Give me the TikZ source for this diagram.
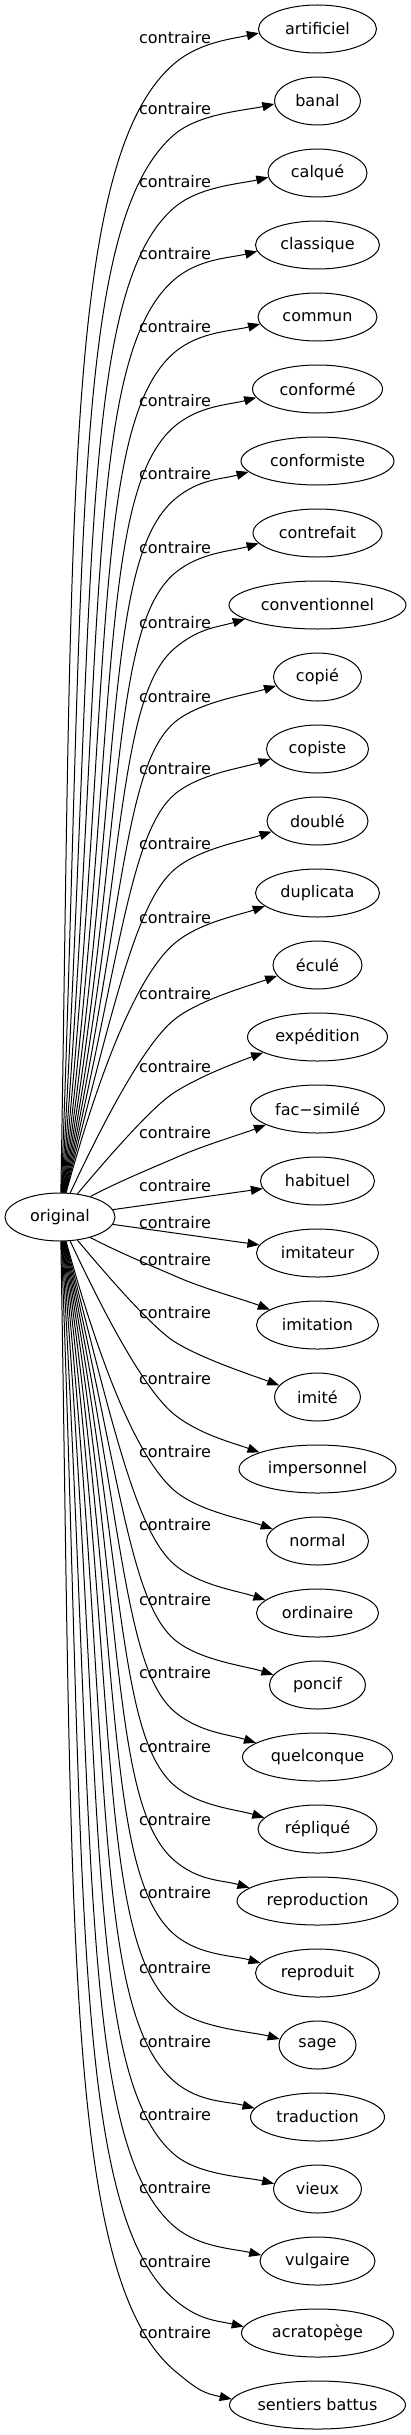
\documentclass[tikz,border=0pt]{standalone}
\usepackage{fontspec}
\setmainfont{DejaVu Sans}
\usetikzlibrary{arrows.meta,shapes.geometric,calc}
\begin{document}
\begin{tikzpicture}[x=1pt,y=-1pt,
  every node/.style={font=\fontsize{16}{19}\selectfont},
  tgt/.style={draw, ellipse, line width=1pt, minimum height=48pt, inner sep=0pt},
  src/.style={draw, ellipse, line width=1pt, minimum width=110pt, minimum height=48pt, inner sep=0pt},
  lbl/.style={inner sep=0pt},
  edge/.style={draw, line width=1pt, -{Triangle[length=12pt,width=9pt]}}]
\useasboundingbox (0,0) rectangle (411,2435);
\node[src] (o) at (60,1217) {original};
\foreach \i/\name/\w/\lab in {
 0/artificiel/118/38, 1/banal/86/109, 2/calqué/99/182, 3/classique/124/254,
 4/commun/119/327, 5/conformé/130/401, 6/conformiste/153/474, 7/contrefait/129/548,
 8/conventionnel/177/623, 9/copié/88/697, 10/copiste/102/769, 11/doublé/101/844,
 12/duplicata/124/918, 13/éculé/89/994, 14/expédition/140/1067, 15/fac−similé/134/1133,
 16/habituel/114/1186, 17/imitateur/122/1223, 18/imitation/122/1260, 19/imité/86/1313,
 20/impersonnel/157/1379, 21/normal/102/1452, 22/ordinaire/122/1525, 23/poncif/96/1600,
 24/quelconque/150/1673, 25/répliqué/119/1747, 26/reproduction/161/1820, 27/reproduit/124/1893,
 28/sage/77/1968, 29/traduction/134/2042, 30/vieux/88/2115, 31/vulgaire/115/2188,
 32/acratopège/152/2262, 33/sentiers battus/176/2333} {
  \node[tgt, minimum width=\w pt] (t\i) at (317.5,{29+72*\i}) {\name};
  \node[lbl] (l\i) at (175,\lab) {contraire};
}
\foreach \j/\ts/\sa/\ph/\lab/\fa in {
 0/89/88/40/38/0.6, 1/87.8/87/40/109/0.6, 2/86.6/86/40/182/0.6, 3/85.4/85/40/254/0.6,
 4/84.2/84/40/327/0.6, 5/83/83/40/401/0.6, 6/81.8/82/40/474/0.6, 7/80.6/81/40/548/0.6,
 8/79.4/80/40/623/0.6, 9/78.2/79/40/697/0.6, 10/77/78/40/769/0.6, 11/75.8/77/40/844/0.6,
 12/74.6/76/40/918/0.6, 13/65/67/38/994/0.55, 14/50/53/32/1067/0.5, 15/28/34/24/1133/0.4} {
  \pgfmathsetmacro{\r}{1/sqrt((cos(\sa)/55)^2+(sin(\sa)/24)^2)}
  \pgfmathsetmacro{\ys}{1217-\r*sin(\sa)}
  \pgfmathsetmacro{\yW}{\lab+25}
  \pgfmathsetmacro{\L}{\ys-\yW}
  \pgfmathsetmacro{\ax}{\fa*\L*cos(\ts)/sin(\ts)}
  \pgfmathsetmacro{\ay}{\fa*\L}
  \pgfmathsetmacro{\dd}{0.12*\L+10}
  \pgfmathsetmacro{\bx}{\dd*cos(\ph)}
  \pgfmathsetmacro{\by}{\dd*sin(\ph)}
  \pgfmathsetmacro{\cx}{32*cos(\ph)}
  \pgfmathsetmacro{\cy}{32*sin(\ph)}
  \pgfmathsetmacro{\te}{12+0.6*\j}
  \pgfmathsetmacro{\ex}{28*cos(\te)}
  \pgfmathsetmacro{\ey}{28*sin(\te)}
  \pgfmathsetmacro{\ea}{184+0.9*\j}
  \pgfmathsetmacro{\eb}{360-\ea}
  \pgfmathsetmacro{\yB}{2434-\yW}
  \pgfmathtruncatemacro{\k}{33-\j}
  \draw[edge] (o.\sa) .. controls +(\ax,-\ay) and +(-\bx,\by) .. (175,\yW)
     .. controls +(\cx,-\cy) and +(-\ex,\ey) .. (t\j.\ea);
  \draw[edge] (o.-\sa) .. controls +(\ax,\ay) and +(-\bx,-\by) .. (175,\yB)
     .. controls +(\cx,\cy) and +(-\ex,-\ey) .. (t\k.\eb);
}
\draw[edge] (o) -- (t16);
\draw[edge] (o) -- (t17);
\end{tikzpicture}
\end{document}
